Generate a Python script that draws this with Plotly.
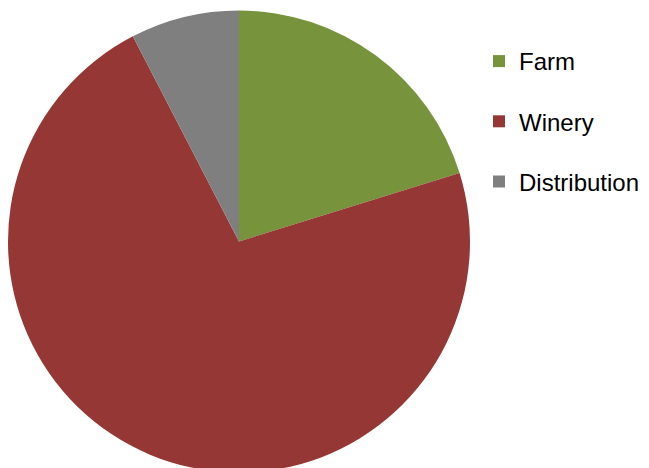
import plotly.graph_objects as go

# Share of the wine's footprint by stage
stages = ["Farm", "Winery", "Distribution"]
shares = [20.2, 72.2, 7.6]
colors = ["#77933C", "#953735", "#7F7F7F"]

W, H = 649, 483

fig = go.Figure()

fig.add_trace(go.Pie(
    labels=stages,
    values=shares,
    sort=False,
    direction="clockwise",
    rotation=0,
    marker=dict(colors=colors, line=dict(width=0)),
    textinfo="none",
    hoverinfo="label+percent",
    showlegend=False,
    domain=dict(x=[8 / W, 470 / W], y=[0, 1]),
))

# Legend entries, one group each so the rows can be spaced apart
for name, col in zip(stages, colors):
    fig.add_trace(go.Scatter(
        x=[None], y=[None],
        mode="markers",
        marker=dict(symbol="square", size=10, color=col),
        name=name,
        legendgroup=name,
        hoverinfo="skip",
    ))

fig.update_layout(
    width=W,
    height=H,
    margin=dict(l=0, r=0, t=0, b=0),
    paper_bgcolor="white",
    plot_bgcolor="white",
    xaxis=dict(visible=False),
    yaxis=dict(visible=False),
    showlegend=True,
    legend=dict(
        x=479 / W,
        xanchor="left",
        y=1 - 39 / H,
        yanchor="top",
        font=dict(family="Liberation Sans, Arial, sans-serif", size=24, color="#000000"),
        tracegroupgap=26,
        bgcolor="rgba(0,0,0,0)",
        itemsizing="constant",
    ),
)

fig.write_html("out.html", post_script="document.body.style.overflow='hidden';document.body.style.margin='0';")
